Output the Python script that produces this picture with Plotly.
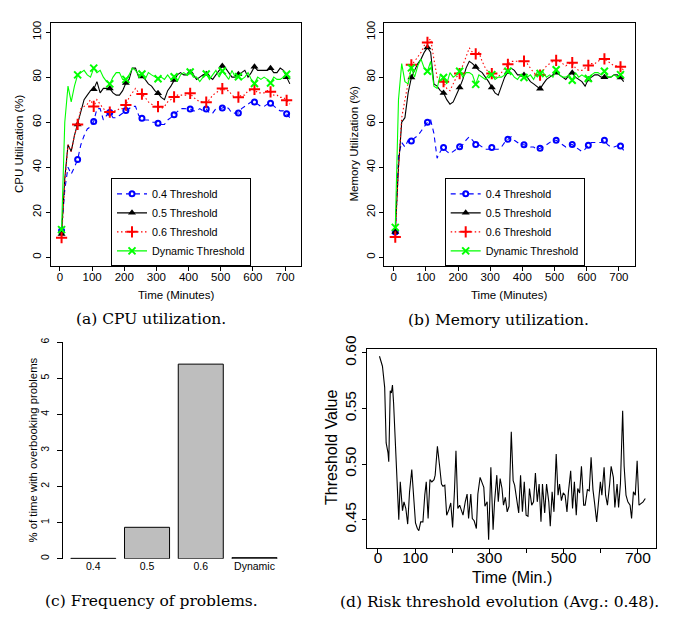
import plotly.graph_objects as go

W, H = 676, 621

# ---------------- data ----------------
time_min = list(range(5, 720, 10))          # 5 .. 715 minutes
marker_step = 5                              # a marker every 50 minutes

cpu_04 = [11.8, 30, 40, 37, 40, 43.4, 50, 54, 57, 58,
          60.3, 66, 66, 61, 63, 64.3, 62, 62, 63, 64,
          65.2, 66, 67, 67, 63, 61.8, 61, 61, 60, 60,
          59.5, 59, 59, 61, 62, 63.3, 65, 66, 66, 66,
          65.9, 65, 65, 66, 65, 65.9, 64, 64, 66, 66,
          66.3, 67, 66, 64, 64, 64.1, 66, 67, 68, 69,
          69.0, 68, 67, 67, 68, 68.4, 67, 66, 65, 65,
          63.7, 62]
cpu_05 = [10.4, 35, 50, 47, 54, 59, 65, 70, 72, 74,
          74.6, 78, 73, 75, 75, 74.9, 73, 72, 72, 74,
          77.4, 79, 84, 84, 80, 80.3, 79, 77, 76, 74,
          72.8, 71, 70, 74, 76, 78.7, 81, 82, 81, 81,
          82.1, 81, 79, 80, 81, 81.3, 80, 79, 81, 83,
          84.9, 84, 82, 80, 80, 81.3, 82, 83, 80, 82,
          84.6, 83, 83, 83, 83, 83.9, 82, 82, 84, 83,
          79.9, 77]
cpu_06 = [8.7, 33, 50, 47, 54, 59, 66, 67, 68, 70,
          67, 70, 68, 66, 65, 64.5, 65, 65, 66, 66,
          67.6, 71, 73, 75, 73, 72.5, 71, 69, 68, 67,
          66.9, 66, 67, 69, 70, 71.2, 72, 72, 72, 72,
          72.8, 71, 70, 69, 69, 68.9, 70, 72, 73, 74,
          74.9, 74, 74, 72, 71, 71.1, 72, 72, 74, 74,
          74.6, 73, 73, 73, 74, 73.5, 72, 72, 71, 71,
          69.7, 68]
cpu_dyn = [12.3, 60, 76, 69, 76, 81, 82, 83, 81, 80,
           84, 82, 83, 80, 78, 77, 80, 82, 82, 79,
           79, 81, 84, 83, 81, 81.4, 79, 82, 81, 80,
           79.3, 80, 79, 81, 79, 80.2, 78, 81, 82, 81,
           82.3, 80, 80, 78, 80, 81.4, 79, 81, 83, 80,
           82.7, 81, 79, 83, 80, 80.2, 79, 80, 82, 79,
           77.2, 80, 79, 80, 79, 77.4, 80, 79, 79, 80,
           81.3, 79]

mem_04 = [11.3, 45, 51, 49, 52, 51.7, 53, 54, 56, 58,
          60, 61, 55, 44, 47, 48.8, 47, 46, 47, 48,
          49.1, 50, 52, 53.5, 52, 50.1, 50, 49, 48, 48,
          48.8, 48, 48, 49, 51, 52.4, 53.5, 52, 51, 50,
          50, 49.5, 49, 49, 48, 48.4, 49, 50, 51, 52,
          52, 51, 50, 49, 50, 50.1, 49, 48, 47, 48,
          49.8, 51, 51, 51, 51, 52, 50, 49, 49, 49.5,
          49.4, 47.5]
mem_05 = [11.3, 40, 60, 62, 73, 79.8, 83, 86, 88, 91,
          93.2, 91, 77, 76, 74, 73, 70, 68, 69, 72,
          75.4, 79, 84, 87, 86, 84.5, 83, 82, 80, 78,
          75.4, 73, 72, 76, 80, 82.3, 84, 83, 81, 81,
          80.9, 80, 78, 77, 76, 74.8, 77, 79, 80, 81,
          82, 81, 80, 79, 81, 81.9, 80, 79, 78, 76,
          79, 80, 81, 81, 80, 80, 80, 80, 81, 81,
          79.8, 78]
mem_06 = [9, 40, 62, 70, 78, 85.5, 87, 89, 91, 94,
          95.4, 97, 88, 80, 78, 78, 75, 74, 77, 80,
          81.6, 85, 89, 93, 91, 90.3, 91, 87, 84, 82,
          81.6, 80, 80, 82, 84, 85.7, 87, 87, 87, 87,
          87.1, 86, 84, 82, 81, 80.9, 83, 85, 86, 87,
          87.4, 87, 86, 85, 86, 86.4, 84, 83, 83, 84,
          85.2, 86, 86, 87, 88, 88.1, 87, 86, 85, 85,
          84.6, 83]
mem_dyn = [13.3, 70, 86, 78, 77, 84.1, 80, 85, 88, 84,
           82.6, 87, 76, 75, 81, 79.8, 77, 82, 80, 81,
           82.6, 80, 82, 82, 81, 76.8, 81, 80, 79, 81,
           81.1, 79, 80, 80, 81, 82.6, 82, 80, 79, 81,
           79.8, 80, 81, 79, 82, 81.6, 82, 80, 81, 80,
           83.3, 81, 80, 80, 81, 78.6, 82, 80, 81, 80,
           79.4, 81, 82, 82, 81, 82.6, 80, 80, 81, 80,
           81.1, 82]

series_names = ["0.4 Threshold", "0.5 Threshold", "0.6 Threshold", "Dynamic Threshold"]

problem_categories = ["0.4", "0.5", "0.6", "Dynamic"]
problem_pct = [0.01, 0.87, 5.39, 0.03]

risk_time = [4, 12, 18, 22, 27, 29, 33, 36, 39, 42, 56, 60, 66, 70, 75, 80, 85, 91, 97,
             101, 106, 110, 115, 121, 126, 130, 135, 140, 145, 151, 154, 160, 166, 171,
             175, 180, 185, 191, 196, 201, 206, 210, 215, 220, 224, 229, 235, 240, 244,
             250, 254, 259, 265, 269, 275, 279, 285, 288, 294, 298, 304, 310, 314, 320,
             324, 329, 334, 338, 343, 348, 353, 359, 364, 368, 373, 379, 384, 389, 394,
             399, 404, 408, 414, 419, 424, 429, 434, 439, 443, 449, 454, 460, 464, 469,
             474, 480, 485, 489, 494, 499, 504, 509, 513, 519, 524, 529, 534, 538, 543,
             548, 554, 558, 564, 569, 574, 579, 583, 589, 594, 599, 603, 609, 613, 618,
             624, 628, 634, 638, 644, 648, 653, 659, 663, 668, 673, 679, 683, 688, 693,
             698, 703, 709, 714, 720]
risk_value = [0.597, 0.588, 0.569, 0.519, 0.510, 0.502, 0.566, 0.564, 0.571, 0.555, 0.450,
              0.484, 0.458, 0.466, 0.460, 0.446, 0.475, 0.495, 0.466, 0.447, 0.442, 0.440,
              0.448, 0.448, 0.472, 0.484, 0.451, 0.486, 0.484, 0.486, 0.490, 0.516, 0.498,
              0.482, 0.480, 0.481, 0.454, 0.459, 0.465, 0.443, 0.476, 0.512, 0.460, 0.463,
              0.459, 0.454, 0.466, 0.473, 0.451, 0.473, 0.451, 0.449, 0.442, 0.473, 0.488,
              0.484, 0.479, 0.462, 0.466, 0.432, 0.497, 0.441, 0.466, 0.490, 0.466, 0.487,
              0.478, 0.463, 0.470, 0.457, 0.462, 0.529, 0.485, 0.481, 0.470, 0.456, 0.490,
              0.457, 0.484, 0.454, 0.453, 0.478, 0.463, 0.466, 0.492, 0.466, 0.482, 0.448,
              0.482, 0.456, 0.482, 0.466, 0.444, 0.475, 0.457, 0.509, 0.472, 0.482, 0.467,
              0.474, 0.472, 0.457, 0.475, 0.494, 0.460, 0.484, 0.454, 0.478, 0.474, 0.498,
              0.463, 0.463, 0.477, 0.476, 0.506, 0.477, 0.466, 0.448, 0.466, 0.484, 0.472,
              0.497, 0.472, 0.463, 0.482, 0.498, 0.488, 0.461, 0.482, 0.461, 0.482, 0.548,
              0.498, 0.472, 0.466, 0.463, 0.451, 0.475, 0.472, 0.503, 0.463, 0.465, 0.466,
              0.469]

time_ticks = [0, 100, 200, 300, 400, 500, 600, 700]
util_ticks = [0, 20, 40, 60, 80, 100]

# ---------------- styles ----------------
styles = [
    dict(color="#0000FF", dash="5px,4px", symbol="circle-open", size=5, mlw=2),
    dict(color="#000000", dash="solid", symbol="triangle-up", size=7, mlw=0),
    dict(color="#FF0000", dash="1.5px,2.5px", symbol="cross-thin-open", size=8, mlw=2),
    dict(color="#00FF00", dash="solid", symbol="x-thin-open", size=7, mlw=2),
]

SANS = "Liberation Sans, Arial, sans-serif"
SERIF = "DejaVu Serif, serif"


def px_x(p):
    return p / W


def px_y(p):
    return 1 - p / H


fig = go.Figure()


def add_util_panel(series, xa, ya, legend_id):
    for name, vals, st in zip(series_names, series, styles):
        t = time_min[:len(vals)]
        fig.add_trace(go.Scatter(
            x=t, y=vals, mode="lines", xaxis=xa, yaxis=ya, showlegend=False,
            line=dict(color=st["color"], dash=st["dash"], width=1.1),
            hoverinfo="skip"))
        fig.add_trace(go.Scatter(
            x=t[::marker_step], y=vals[::marker_step], mode="markers", xaxis=xa, yaxis=ya,
            showlegend=False,
            marker=dict(color=st["color"], symbol=st["symbol"], size=st["size"],
                        line=dict(color=st["color"], width=st["mlw"]))))
        fig.add_trace(go.Scatter(
            x=[None], y=[None], mode="lines+markers", name=name, xaxis=xa, yaxis=ya,
            legend=legend_id,
            line=dict(color=st["color"], dash=st["dash"], width=1.1),
            marker=dict(color=st["color"], symbol=st["symbol"], size=st["size"],
                        line=dict(color=st["color"], width=st["mlw"]))))


add_util_panel([cpu_04, cpu_05, cpu_06, cpu_dyn], "x", "y", "legend")
add_util_panel([mem_04, mem_05, mem_06, mem_dyn], "x2", "y2", "legend2")

fig.add_trace(go.Bar(
    x=problem_categories, y=problem_pct, xaxis="x3", yaxis="y3", showlegend=False,
    marker=dict(color="#BEBEBE", line=dict(color="black", width=1))))

fig.add_trace(go.Scatter(
    x=risk_time, y=risk_value, mode="lines", xaxis="x4", yaxis="y4", showlegend=False,
    line=dict(color="black", width=1.1)))

box_axis = dict(showline=True, mirror=True, linecolor="black", linewidth=1,
                ticks="outside", ticklen=4, tickcolor="black", showgrid=False,
                zeroline=False, fixedrange=True)

fig.update_layout(
    width=W, height=H, margin=dict(l=0, r=0, t=0, b=0),
    paper_bgcolor="white", plot_bgcolor="white",
    font=dict(family=SANS, color="black", size=11.5),
    bargap=0.162,
    xaxis=dict(box_axis, domain=[px_x(50.7), px_x(300.7)], range=[-28.8, 748.8],
               tickvals=time_ticks, anchor="y", tickfont=dict(size=11.5),
               ticklabelstandoff=-4),
    yaxis=dict(box_axis, domain=[px_y(259.2), px_y(10.3)], range=[-4, 104],
               tickvals=util_ticks, tickangle=-90, anchor="x", tickfont=dict(size=11.5)),
    xaxis2=dict(box_axis, domain=[px_x(384.4), px_x(634.6)], range=[-28.8, 748.8],
                tickvals=time_ticks, anchor="y2", tickfont=dict(size=11.5),
                ticklabelstandoff=-4),
    yaxis2=dict(box_axis, domain=[px_y(259.2), px_y(10.3)], range=[-4, 104],
                tickvals=util_ticks, tickangle=-90, anchor="x2", tickfont=dict(size=11.5)),
    xaxis3=dict(domain=[px_x(62.7), px_x(285.1)], range=[-0.57, 3.57], type="category",
                showline=False, ticks="", showgrid=False, zeroline=False, anchor="y3",
                tickfont=dict(size=10.5), fixedrange=True),
    yaxis3=dict(domain=[px_y(558.3), px_y(336.7)], range=[0, 6],
                tickvals=[0, 1, 2, 3, 4, 5, 6], showline=True, linecolor="black",
                linewidth=1, ticks="outside", ticklen=5, tickcolor="black",
                showgrid=False, zeroline=False, tickangle=-90, anchor="x3",
                tickfont=dict(size=10.5), fixedrange=True, ticklabelstandoff=4),
    xaxis4=dict(box_axis, domain=[px_x(367.3), px_x(656)], range=[-28.8, 748.8],
                tickvals=time_ticks,
                ticktext=["0", "100", "", "300", "", "500", "", "700"],
                anchor="y4", tickfont=dict(size=15.5), ticklabelstandoff=-9),
    yaxis4=dict(box_axis, domain=[px_y(547.3), px_y(343.3)], range=[0.4245, 0.6039],
                tickvals=[0.45, 0.50, 0.55, 0.60],
                ticktext=["0.45", "0.50", "0.55", "0.60"], tickangle=-90,
                anchor="x4", tickfont=dict(size=15.5)),
    legend=dict(x=px_x(111), y=px_y(259.2), xanchor="left", yanchor="bottom",
                bordercolor="black", borderwidth=1, bgcolor="white",
                font=dict(size=10.75, family=SANS), itemwidth=30, tracegroupgap=0),
    legend2=dict(x=px_x(444.7), y=px_y(259.2), xanchor="left", yanchor="bottom",
                 bordercolor="black", borderwidth=1, bgcolor="white",
                 font=dict(size=10.75, family=SANS), itemwidth=30, tracegroupgap=0),
)


def text_at(x, y, s, size, family=SANS, angle=0):
    fig.add_annotation(x=px_x(x), y=px_y(y), xref="paper", yref="paper", text=s,
                       showarrow=False, xanchor="center", yanchor="middle",
                       textangle=angle, font=dict(size=size, family=family, color="black"))


# axis titles
text_at(19, 134, "CPU Utilization (%)", 11.5, angle=-90)
text_at(176, 288, "Time (Minutes)", 11.5)
text_at(353.5, 134, "Memory Utilization (%)", 11.5, angle=-90)
text_at(509, 288, "Time (Minutes)", 11.5)
text_at(33, 447.5, "% of time with overbooking problems", 11.3, angle=-90)
text_at(332, 445, "Threshold Value", 16, angle=-90)
text_at(511.7, 578, "Time (Min.)", 16)

# captions
text_at(150.5, 313, "(a) CPU utilization.", 15.5, family=SERIF)
text_at(498.5, 314, "(b) Memory utilization.", 15.5, family=SERIF)
text_at(151, 602, "(c) Frequency of problems.", 15.5, family=SERIF)
text_at(499, 603, "(d) Risk threshold evolution (Avg.: 0.48).", 15.5, family=SERIF)

fig.write_html("out.html", config={"displayModeBar": False},
               post_script="document.body.style.margin='0px';")
